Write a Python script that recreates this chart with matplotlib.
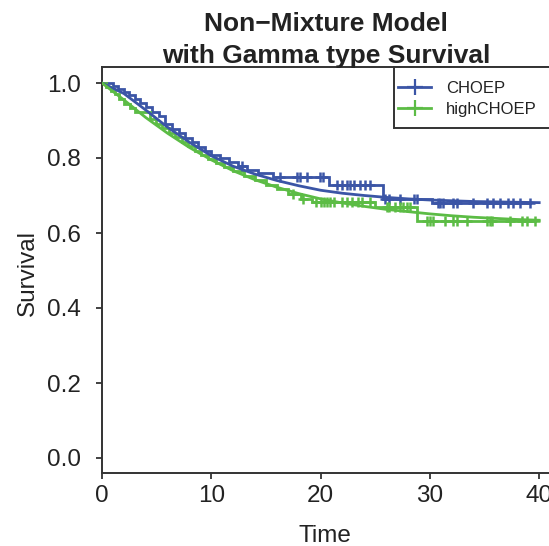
import numpy as np
import matplotlib
matplotlib.use("Agg")
import matplotlib.pyplot as plt
from matplotlib.lines import Line2D
from matplotlib.patches import Rectangle

plt.rcParams['font.family'] = ['Liberation Sans', 'DejaVu Sans']

# ---- data ----
groups = ["CHOEP", "highCHOEP"]

choep_times = [0, 1.0, 1.5, 2.0, 2.5, 3.0, 3.5, 4.0, 4.6, 5.2, 5.8, 6.4, 7.0, 7.6, 8.2,
               8.8, 9.4, 10.0, 10.8, 11.6, 12.4, 13.3, 14.3, 15.6, 20.8, 25.7, 30.2]
choep_surv = [1.0, 0.992, 0.984, 0.976, 0.968, 0.958, 0.947, 0.936, 0.924, 0.912, 0.892,
              0.878, 0.866, 0.854, 0.842, 0.830, 0.819, 0.809, 0.799, 0.789, 0.779, 0.769,
              0.760, 0.750, 0.728, 0.690, 0.680]
choep_censor = [12.8, 16.3, 17.8, 18.1, 18.8, 19.9, 20.2, 21.5, 22.0, 22.4, 22.7, 23.1,
                23.6, 24.1, 24.5, 25.9, 26.3, 27.3, 28.5, 28.8, 30.7, 30.9, 31.2, 32.1,
                32.5, 33.9, 35.2, 35.8, 36.4, 37.1, 37.6, 38.2, 39.2]

high_times = [0, 0.4, 0.8, 1.2, 1.6, 2.0, 2.6, 3.0, 4.4, 4.9, 5.5, 6.1, 6.7, 7.3, 7.9, 8.5,
              9.1, 9.7, 10.4, 11.2, 12.0, 13.0, 14.0, 15.0, 16.0, 17.0, 18.2, 19.2, 25.0, 28.8]
high_surv = [1.0, 0.99, 0.98, 0.97, 0.957, 0.945, 0.933, 0.922, 0.905, 0.891, 0.879, 0.867,
             0.855, 0.843, 0.832, 0.820, 0.808, 0.797, 0.786, 0.776, 0.765, 0.753, 0.741,
             0.729, 0.717, 0.705, 0.692, 0.683, 0.668, 0.632]
high_censor = [17.5, 18.4, 19.6, 20.0, 20.3, 20.6, 20.9, 21.2, 22.0, 22.4, 22.9, 23.4,
               23.8, 24.5, 26.1, 26.3, 26.8, 27.3, 27.5, 27.9, 28.2, 29.7, 30.0, 30.3,
               31.4, 32.1, 32.5, 33.4, 35.2, 35.5, 35.7, 37.3, 38.4, 38.9, 39.6]

fit_times = [0, 2, 4, 6, 8, 10, 12, 14, 16, 18, 20, 22, 24, 26, 28, 30, 32, 34, 36, 38, 40]
choep_fit = [1.0, 0.972, 0.928, 0.882, 0.842, 0.806, 0.778, 0.757, 0.740, 0.726, 0.714,
             0.706, 0.700, 0.695, 0.691, 0.688, 0.686, 0.684, 0.683, 0.682, 0.681]
high_fit = [1.0, 0.955, 0.908, 0.866, 0.828, 0.795, 0.766, 0.742, 0.722, 0.705, 0.691,
            0.680, 0.671, 0.663, 0.657, 0.651, 0.646, 0.642, 0.639, 0.636, 0.634]

yticks = [0.0, 0.2, 0.4, 0.6, 0.8, 1.0]
ytick_labels = ["0.0", "0.2", "0.4", "0.6", "0.8", "1.0"]
xticks = [0, 10, 20, 30, 40]
xtick_labels = ["0", "10", "20", "30", "40"]

BLUE = "#3b55a6"
GREEN = "#5cbc45"
TXT = "#222222"

W, H = 549, 546
fig = plt.figure(figsize=(W / 100, H / 100), dpi=100)

# axes in pixel coordinates (plot region extends past the right edge, as in the reference)
L, R, T, B = 102, 555, 67, 473
ax = fig.add_axes([L / W, 1 - B / H, (R - L) / W, (B - T) / H])
px_per_unit = 10.93
ax.set_xlim(0, (R - L) / px_per_unit)
ax.set_ylim((458 - B) / 375, (458 - T) / 375)

LW = 2.0


def km(ax, times, surv, censor, color):
    t = np.asarray(times, float)
    s = np.asarray(surv, float)
    c = np.asarray(censor, float)
    tend = max(t[-1], c.max())
    tt = np.append(t, tend)
    ss = np.append(s, s[-1])
    ax.step(tt, ss, where='post', color=color, lw=LW, solid_joinstyle='miter', zorder=3)
    idx = np.searchsorted(t, c, side='right') - 1
    ax.plot(c, s[idx], ls='none', marker='+', ms=7.5, mew=1.8, color=color, zorder=4)


km(ax, choep_times, choep_surv, choep_censor, BLUE)
km(ax, high_times, high_surv, high_censor, GREEN)
ax.plot(fit_times, choep_fit, color=BLUE, lw=LW, zorder=3)
ax.plot(fit_times, high_fit, color=GREEN, lw=LW, zorder=3)

for side in ['left', 'bottom', 'top', 'right']:
    ax.spines[side].set_color('#333333')
    ax.spines[side].set_linewidth(1.4)

ax.set_yticks(yticks)
ax.set_yticklabels(ytick_labels)
ax.set_xticks(xticks)
ax.set_xticklabels(xtick_labels)
ax.tick_params(axis='y', direction='out', length=4, width=1.3, pad=11,
               labelsize=17.5, colors='#333333', labelcolor=TXT)
ax.tick_params(axis='x', direction='out', length=4.5, width=1.3, pad=4,
               labelsize=17.5, colors='#333333', labelcolor=TXT)

fig.text(325 / W, 1 - 536 / H, "Time", ha='center', va='center', fontsize=17.5, color=TXT)
fig.text(28 / W, 1 - 273 / H, "Survival", ha='center', va='center', rotation=90,
         fontsize=17.5, color=TXT)
fig.text(326 / W, 1 - 31 / H, "Non\u2212Mixture Model", ha='center', va='baseline',
         fontsize=19, fontweight='bold', color=TXT)
fig.text(326 / W, 1 - 63 / H, "with Gamma type Survival", ha='center', va='baseline',
         fontsize=19, fontweight='bold', color=TXT)


# legend box drawn as a rectangle in axes coordinates
def ax_x(px):
    return (px - L) / (R - L)


def ax_y(py):
    return (B - py) / (B - T)


rect = Rectangle((ax_x(394), ax_y(128)), ax_x(R) - ax_x(394), ax_y(T) - ax_y(128),
                 transform=ax.transAxes, fill=True, facecolor='white',
                 edgecolor='#333333', lw=1.4, zorder=5, clip_on=False)
ax.add_patch(rect)

handles = [Line2D([], [], color=BLUE, lw=LW, marker='+', ms=12, mew=1.6),
           Line2D([], [], color=GREEN, lw=LW, marker='+', ms=12, mew=1.6)]
leg = ax.legend(handles, groups, loc='upper left',
                bbox_to_anchor=(ax_x(398), ax_y(81)), bbox_transform=ax.transAxes,
                frameon=False, fontsize=12, handlelength=2.0, handletextpad=0.9,
                labelspacing=0.35, borderpad=0, borderaxespad=0, labelcolor=TXT)
leg.set_zorder(6)

fig.savefig("out.png", dpi=100)
